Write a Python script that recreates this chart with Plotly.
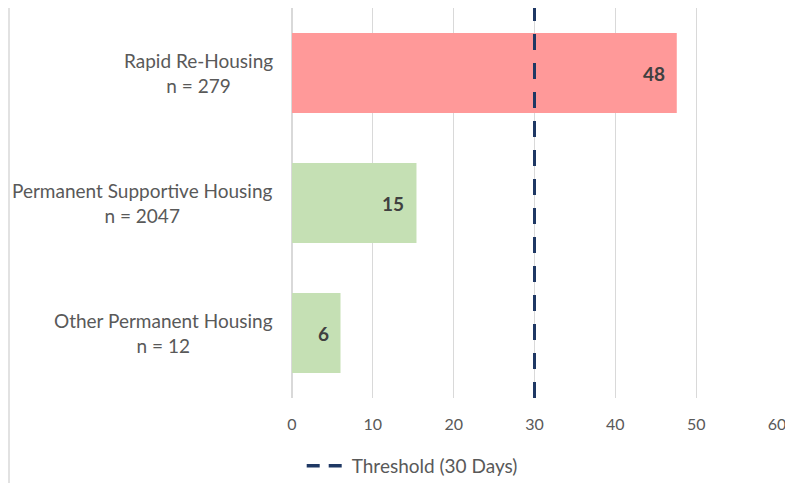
import plotly.graph_objects as go

categories = ["Rapid Re-Housing<br>n = 279",
              "Permanent Supportive Housing<br>n = 2047",
              "Other Permanent Housing<br>n = 12"]
values = [47.6, 15.4, 6.0]
labels = ["48", "15", "6"]
colors = ["#FF9999", "#C5E0B4", "#C5E0B4"]
threshold = 30
threshold_name = "Threshold (30 Days)"
x_ticks = [0, 10, 20, 30, 40, 50, 60]

W, H = 793, 483
ml, mr, mt, mb = 284, 24, 0, 93
pw = W - ml - mr
ph = H - mt - mb
FONT = "Lato, Open Sans, sans-serif"

fig = go.Figure()
fig.add_trace(go.Bar(
    x=values, y=categories, orientation="h",
    marker=dict(color=colors, line=dict(width=0)),
    width=0.615, showlegend=False, hoverinfo="skip"))

fig.add_trace(go.Scatter(
    x=[None], y=[None], mode="lines", name=threshold_name,
    line=dict(color="#1F3864", width=3.5, dash="13px,9px")))

fig.add_shape(type="line", xref="x", yref="paper",
              x0=threshold, x1=threshold, y0=0, y1=1,
              line=dict(color="#1F3864", width=3, dash="16px,13px"),
              layer="above")

# value labels inside bar ends
for v, c, t in zip(values, categories, labels):
    fig.add_annotation(x=v, y=c, text="<b>%s</b>" % t, showarrow=False,
                       xanchor="right", xshift=-10,
                       font=dict(family=FONT, size=19, color="#404040"))

# category labels (centre-aligned lines, right-anchored block)
for c in categories:
    fig.add_annotation(x=0, xref="paper", y=c, yref="y", text=c,
                       showarrow=False, xanchor="right", align="center",
                       xshift=-17,
                       font=dict(family=FONT, size=19, color="#595959"))

# chart border on the left
fig.add_shape(type="line", xref="paper", yref="paper",
              x0=(1 - ml) / pw, x1=(1 - ml) / pw,
              y0=-mb / ph, y1=1,
              line=dict(color="#D9D9D9", width=1.5))

fig.update_layout(
    width=W, height=H,
    margin=dict(l=ml, r=mr, t=mt, b=mb),
    plot_bgcolor="white", paper_bgcolor="white",
    font=dict(family=FONT, size=19, color="#595959"),
    xaxis=dict(range=[0, 60], tickvals=x_ticks, showgrid=True,
               gridcolor="#D9D9D9", gridwidth=1, zeroline=True,
               zerolinecolor="#D9D9D9", zerolinewidth=1.5,
               showline=False, ticks="", ticklabelstandoff=15,
               tickfont=dict(size=16, color="#595959"), fixedrange=True),
    yaxis=dict(categoryorder="array", categoryarray=categories[::-1],
               showgrid=False, ticks="", showticklabels=False,
               fixedrange=True),
    legend=dict(orientation="h", x=0.02, xanchor="left",
                y=-0.174, yanchor="middle", itemwidth=40,
                font=dict(size=19, color="#595959")),
)

fig.write_html("out.html")
